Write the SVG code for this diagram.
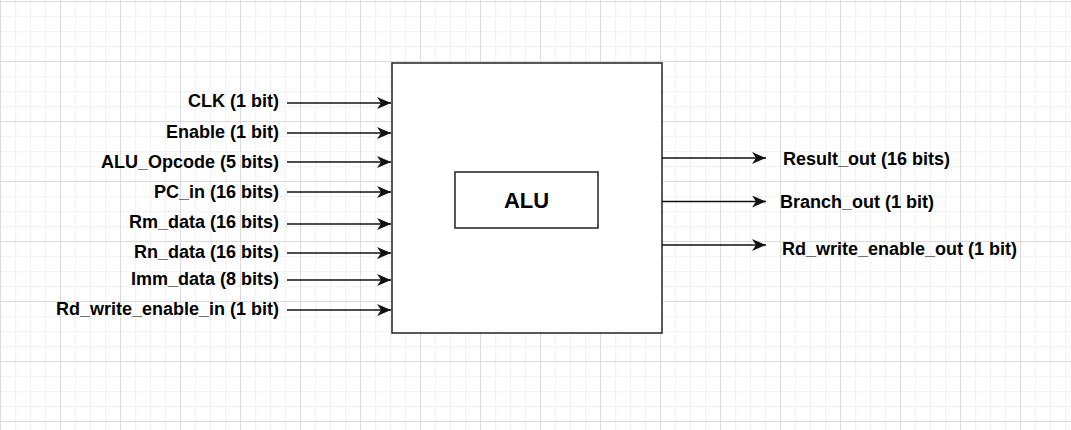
<svg xmlns="http://www.w3.org/2000/svg" width="1071" height="430" viewBox="0 0 1071 430">
  <defs>
    <pattern id="minor" width="15" height="15" patternUnits="userSpaceOnUse" x="0" y="1">
      <path d="M0.5,0 V15 M0,0.5 H15" fill="none" stroke="#f3f3f3" stroke-width="1.5"/>
    </pattern>
    <pattern id="major" width="60" height="60" patternUnits="userSpaceOnUse" x="0" y="1">
      <path d="M0.5,0 V60 M0,0.5 H60" fill="none" stroke="#dcdcdc" stroke-width="1"/>
    </pattern>
    <marker id="arr" viewBox="0 0 14 12" refX="14" refY="6" markerWidth="14" markerHeight="12" markerUnits="userSpaceOnUse" orient="auto">
      <path d="M0,0 L14,6 L0,12 L4,6 Z" fill="#111"/>
    </marker>
    <style>
      .lbl { font-family: "Liberation Sans", Arial, sans-serif; font-weight: bold; font-size: 18px; fill: #000; }
      .in { text-anchor: end; }
      .edge { stroke: #111; stroke-width: 1.6; fill: none; marker-end: url(#arr); }
      .box { fill: #fff; stroke: #222; stroke-width: 1.5; }
    </style>
  </defs>
  <rect width="1071" height="430" fill="#fff"/>
  <rect width="1071" height="430" fill="url(#minor)"/>
  <rect width="1071" height="430" fill="url(#major)"/>

  <g id="alu">
    <rect class="box" x="392" y="63" width="270" height="270"/>
    <rect class="box" x="455" y="172" width="143" height="56"/>
    <text class="lbl" x="526.5" y="208" text-anchor="middle" style="font-size:22px">ALU</text>
  </g>

  <g id="connectors">
    <line class="edge" x1="287" y1="103" x2="391" y2="103"/>
    <line class="edge" x1="287" y1="133" x2="391" y2="133"/>
    <line class="edge" x1="287" y1="162" x2="391" y2="162"/>
    <line class="edge" x1="287" y1="192" x2="391" y2="192"/>
    <line class="edge" x1="287" y1="224" x2="391" y2="224"/>
    <line class="edge" x1="287" y1="253" x2="391" y2="253"/>
    <line class="edge" x1="287" y1="280" x2="391" y2="280"/>
    <line class="edge" x1="287" y1="310" x2="391" y2="310"/>
    <line class="edge" x1="662" y1="158" x2="766" y2="158"/>
    <line class="edge" x1="662" y1="201.5" x2="766" y2="201.5"/>
    <line class="edge" x1="662" y1="245" x2="766" y2="245"/>
  </g>

  <g id="in-clk"><text class="lbl in" x="279" y="107">CLK (1 bit)</text></g>
  <g id="in-enable"><text class="lbl in" x="279" y="138">Enable (1 bit)</text></g>
  <g id="in-opcode"><text class="lbl in" x="279" y="167.5">ALU_Opcode (5 bits)</text></g>
  <g id="in-pc"><text class="lbl in" x="279" y="197.5">PC_in (16 bits)</text></g>
  <g id="in-rm"><text class="lbl in" x="279" y="227.5">Rm_data (16 bits)</text></g>
  <g id="in-rn"><text class="lbl in" x="279" y="257.5">Rn_data (16 bits)</text></g>
  <g id="in-imm"><text class="lbl in" x="279" y="284.5">Imm_data (8 bits)</text></g>
  <g id="in-rdwe"><text class="lbl in" x="279" y="315">Rd_write_enable_in (1 bit)</text></g>

  <g id="out-result"><text class="lbl" x="783" y="165">Result_out (16 bits)</text></g>
  <g id="out-branch"><text class="lbl" x="780" y="207.5">Branch_out (1 bit)</text></g>
  <g id="out-rdwe"><text class="lbl" x="782" y="255">Rd_write_enable_out (1 bit)</text></g>
</svg>
